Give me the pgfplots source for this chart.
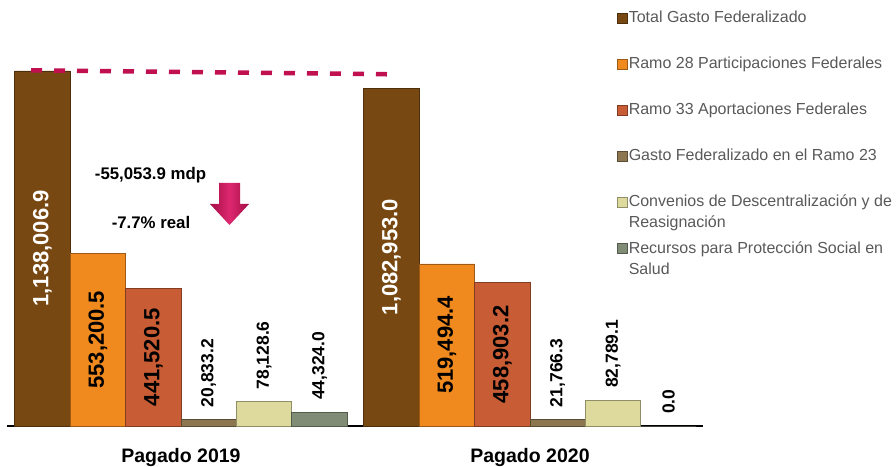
\documentclass[border=0pt]{standalone}
\usepackage{pgfplots}
\pgfplotsset{compat=1.18}
\usepackage{pgfplotstable}
\usepackage{fontspec}
\setmainfont{Liberation Sans}

\definecolor{cTot}{RGB}{120,72,18}
\definecolor{cR28}{RGB}{240,138,30}
\definecolor{cR33}{RGB}{200,92,52}
\definecolor{cR23}{RGB}{140,118,80}
\definecolor{cConv}{RGB}{222,218,158}
\definecolor{cRec}{RGB}{128,140,118}
\definecolor{dashred}{RGB}{192,16,80}
\definecolor{arrowhi}{RGB}{222,40,112}
\definecolor{leggray}{RGB}{89,89,89}

\pgfplotstableread{
x v lbl
42.5 1138006.9 1,138,006.9
391.5 1082953.0 1,082,953.0
}\tA
\pgfplotstableread{
x v lbl
97.9 553200.5 553,200.5
446.9 519494.4 519,494.4
}\tB
\pgfplotstableread{
x v lbl
153.3 441520.5 441,520.5
502.3 458903.2 458,903.2
}\tC
\pgfplotstableread{
x v lbl
208.7 20833.2 20,833.2
557.7 21766.3 21,766.3
}\tD
\pgfplotstableread{
x v lbl
264.1 78128.6 78,128.6
613.1 82789.1 82,789.1
}\tE
\pgfplotstableread{
x v lbl
319.5 44324.0 44,324.0
668.5 0.0 0.0
}\tF

\pgfplotsset{
  sqleg/.style={legend image code/.code={\fill[##1] (0pt,0pt) rectangle (10pt,10pt);}},
  barstyle/.style={ybar, bar width=55.4, bar shift=0pt, fill=#1, draw=#1!65!black, line width=0.8pt, sqleg},
  inlbl/.style={forget plot, draw=none, mark=none, nodes near coords, point meta=explicit symbolic,
    every node near coord/.append style={rotate=90, anchor=center, inner sep=0pt,
      font=\fontsize{22}{22}\selectfont\bfseries, text=#1}},
  toplbl/.style={forget plot, draw=none, mark=none, nodes near coords, point meta=explicit symbolic,
    every node near coord/.append style={rotate=90, anchor=west, inner sep=0pt, inner xsep=12pt,
      font=\fontsize{17.5}{18}\selectfont\bfseries, text=black}},
}

\begin{document}
\begin{tikzpicture}
\path[use as bounding box] (0,0) rectangle (896pt,466pt);
\begin{axis}[
  at={(7pt,40pt)}, anchor=south west, scale only axis,
  width=696pt, height=426pt,
  xmin=7, xmax=703, ymin=0, ymax=1365330,
  axis x line*=bottom, axis y line=none,
  x axis line style={line width=1.2pt, black},
  xtick={181,530}, xticklabels={Pagado 2019,Pagado 2020},
  major tick length=0pt,
  xticklabel style={font=\fontsize{19.5}{22}\selectfont\bfseries, inner sep=0pt, anchor=north, yshift=-22pt},
  clip=false,
  legend cell align=left,
  legend style={at={(0.8764,0.9702)}, anchor=north west, draw=none, fill=none,
    inner sep=0pt, outer sep=0pt, row sep=35pt, column sep=1pt,
    nodes={inner sep=0pt}, font=\fontsize{16}{21}\selectfont\color{leggray}},
]
\addplot[barstyle=cTot] table[x=x,y=v]{\tA};
\addlegendentry{\smash{Total Gasto Federalizado}}
\addplot[barstyle=cR28] table[x=x,y=v]{\tB};
\addlegendentry{\smash{Ramo 28 Participaciones Federales}}
\addplot[barstyle=cR33] table[x=x,y=v]{\tC};
\addlegendentry{\smash{Ramo 33 Aportaciones Federales}}
\addplot[barstyle=cR23] table[x=x,y=v]{\tD};
\addlegendentry{\smash{Gasto Federalizado en el Ramo 23}}
\addplot[barstyle=cConv] table[x=x,y=v]{\tE};
\addlegendentry{\smash{\begin{tabular}[t]{@{}l@{}}Convenios de Descentralización y de\\Reasignación\end{tabular}}}
\addplot[barstyle=cRec] table[x=x,y=v]{\tF};
\addlegendentry{\smash{\begin{tabular}[t]{@{}l@{}}Recursos para Protección Social en\\Salud\end{tabular}}}

\addplot[inlbl=white] table[x=x, y expr=\thisrow{v}/2, meta=lbl]{\tA};
\addplot[inlbl=black] table[x=x, y expr=\thisrow{v}/2, meta=lbl]{\tB};
\addplot[inlbl=black] table[x=x, y expr=\thisrow{v}/2, meta=lbl]{\tC};
\addplot[toplbl] table[x=x, y=v, meta=lbl]{\tD};
\addplot[toplbl] table[x=x, y=v, meta=lbl]{\tE};
\addplot[toplbl] table[x=x, y=v, meta=lbl]{\tF};

\addplot[forget plot, color=dashred, line width=4.5pt, dash pattern=on 11pt off 12pt]
  coordinates {(31,1140000) (396,1127000)};
\end{axis}

\node[anchor=base, font=\fontsize{16.8}{18}\selectfont\bfseries] at (150.5pt,286pt) {-55,053.9 mdp};
\node[anchor=base, font=\fontsize{16.8}{18}\selectfont\bfseries] at (151pt,237pt) {-7.7\% real};
\shade[left color=dashred!85!black, right color=dashred!85!black, middle color=arrowhi]
  (219pt,283pt) -- (240pt,283pt) -- (240pt,262pt) -- (249pt,262pt) -- (229.5pt,241pt)
  -- (210pt,262pt) -- (219pt,262pt) -- cycle;
\end{tikzpicture}
\end{document}
